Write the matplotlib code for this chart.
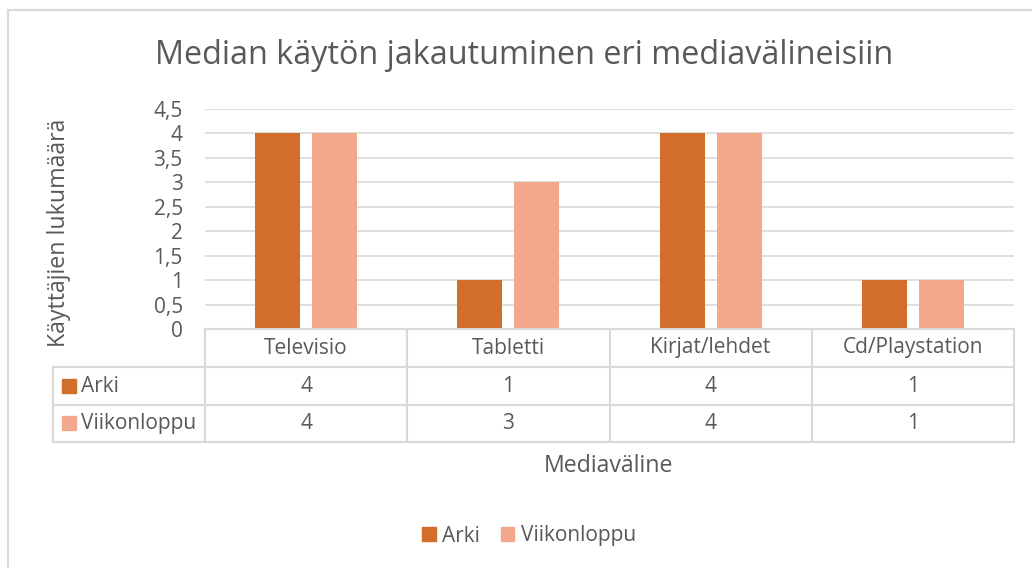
import numpy as np
import matplotlib
matplotlib.use('Agg')
import matplotlib.pyplot as plt
from matplotlib.lines import Line2D
from matplotlib.patches import Rectangle

# data
categories = ['Televisio', 'Tabletti', 'Kirjat/lehdet', 'Cd/Playstation']
arki = [4, 1, 4, 1]
viikonloppu = [4, 3, 4, 1]
series_names = ['Arki', 'Viikonloppu']
yticks = [0, 0.5, 1, 1.5, 2, 2.5, 3, 3.5, 4, 4.5]

colors = ['#D26E2B', '#F2A98B']
text_col = '#595959'
grid_col = '#D9D9D9'

plt.rcParams['font.family'] = ['Open Sans', 'DejaVu Sans']

small = 15
axis_fs = 16.7
title_fs = 23.3

W, H = 1032, 568
fig = plt.figure(figsize=(W / 100, H / 100), dpi=100)

def fx(px):
    return px / W

def fy(py):
    return 1 - py / H

def hline(py, x0, x1, lw=1.5):
    fig.add_artist(Line2D([fx(x0), fx(x1)], [fy(py), fy(py)],
                          transform=fig.transFigure, color=grid_col, linewidth=lw))

def vline(px, y0, y1, lw=1.5):
    fig.add_artist(Line2D([fx(px), fx(px)], [fy(y0), fy(y1)],
                          transform=fig.transFigure, color=grid_col, linewidth=lw))

# outer chart border (only top and left visible)
hline(10, 8, W)
vline(8, 10, H)

left, right, top, bottom = 205, 1014, 109, 329
ax = fig.add_axes([fx(left), fy(bottom), fx(right) - fx(left), fy(top) - fy(bottom)])

x = np.arange(len(categories))
w = 0.222
off = 0.141
ax.bar(x - off, arki, w, color=colors[0], zorder=3)
ax.bar(x + off, viikonloppu, w, color=colors[1], zorder=3)

ax.set_xlim(-0.5, len(categories) - 0.5)
ax.set_ylim(0, 4.5)
ax.set_yticks(yticks)
ax.set_yticklabels([('%g' % t).replace('.', ',') for t in yticks])
ax.set_xticks([])
ax.tick_params(axis='y', length=0, pad=16, labelsize=small, labelcolor=text_col)
ax.yaxis.grid(True, color=grid_col, linewidth=1.2, zorder=0)
for s in ax.spines.values():
    s.set_visible(False)

fig.text(fx(524), fy(64), 'Median käytön jakautuminen eri mediavälineisiin',
         ha='center', va='baseline', fontsize=title_fs, color=text_col)

fig.text(fx(59), fy(233), 'Käyttäjien lukumäärä', rotation=90,
         ha='center', va='center', fontsize=axis_fs, color=text_col)

# data table
col_edges = [205 + i * (1014 - 205) / len(categories) for i in range(len(categories) + 1)]
row_edges = [329, 367, 405, 442]
tleft = 53

hline(row_edges[0], col_edges[0], col_edges[-1])
for r in row_edges[1:]:
    hline(r, tleft, col_edges[-1])
for c in col_edges:
    vline(c, row_edges[0], row_edges[-1])
vline(tleft, row_edges[1], row_edges[-1])

for i, cat in enumerate(categories):
    cx = (col_edges[i] + col_edges[i + 1]) / 2
    fig.text(fx(cx), fy((row_edges[0] + row_edges[1]) / 2), cat,
             ha='center', va='center', fontsize=small, color=text_col)
    for j, vals in enumerate([arki, viikonloppu]):
        fig.text(fx(cx), fy((row_edges[j + 1] + row_edges[j + 2]) / 2), str(vals[i]),
                 ha='center', va='center', fontsize=small, color=text_col)

for j, name in enumerate(series_names):
    cy = (row_edges[j + 1] + row_edges[j + 2]) / 2
    fig.add_artist(Rectangle((fx(62), fy(cy + 6.5)), fx(14), fy(0) - fy(14),
                             transform=fig.transFigure, color=colors[j]))
    fig.text(fx(81), fy(cy), name, ha='left', va='center', fontsize=small, color=text_col)

fig.text(fx(608), fy(466), 'Mediaväline', ha='center', va='center',
         fontsize=axis_fs, color=text_col)

# legend
handles = [Rectangle((0, 0), 1, 1, color=c) for c in colors]
fig.legend(handles, series_names, loc='center', bbox_to_anchor=(fx(529), fy(536)),
           ncol=2, frameon=False, fontsize=small, handlelength=0.65, handleheight=0.65,
           handletextpad=0.3, columnspacing=1.0, labelcolor=text_col)

fig.savefig('out.png', dpi=100)
